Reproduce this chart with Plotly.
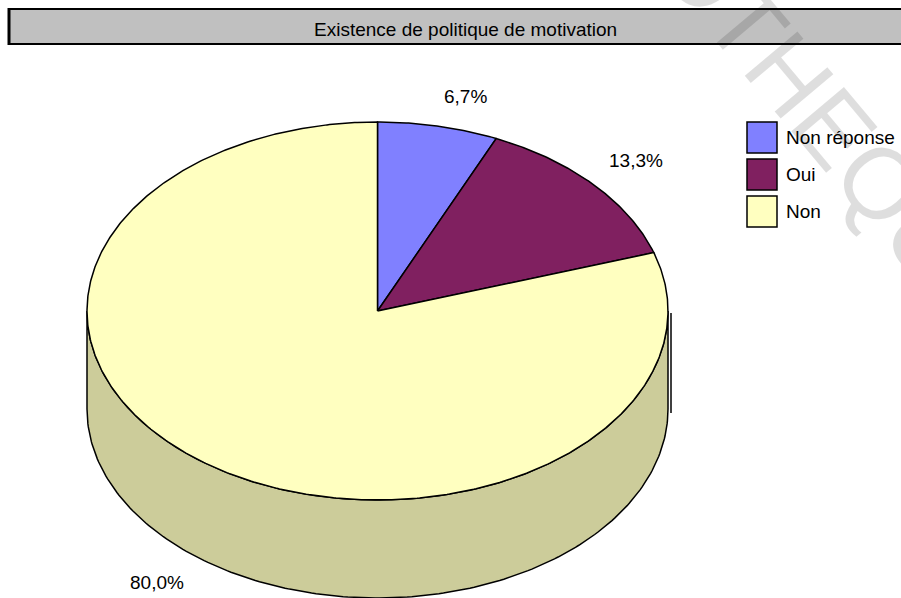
import numpy as np
import plotly.graph_objects as go

# Survey answers: "Is there a motivation policy?"
categories = ["Non réponse", "Oui", "Non"]
shares = [6.7, 13.3, 80.0]
share_labels = ["6,7%", "13,3%", "80,0%"]
colors = ["#8080FF", "#802060", "#FFFFC0"]
title_text = "Existence de politique de motivation"

W, H = 901, 598
FONT = "Liberation Sans, Arial, sans-serif"

# Projected (tilted) pie geometry in pixel space
CX, CY, RX, RY, DEPTH = 377.5, 311.0, 290.5, 189.0, 98.0


def ellipse(theta_deg, drop=0.0):
    t = np.radians(theta_deg)
    return CX + RX * np.sin(t), CY - RY * np.cos(t) + drop


def darker(hex_color, f=0.8):
    h = hex_color.lstrip("#")
    r, g, b = (int(h[i:i + 2], 16) for i in (0, 2, 4))
    return "#%02X%02X%02X" % (round(r * f), round(g * f), round(b * f))


total = sum(shares)
ends = np.cumsum(shares) / total * 360.0
starts = np.concatenate([[0.0], ends[:-1]])

fig = go.Figure()

# Side walls: only the front half (90..270 deg, clockwise from top) is visible
for s, e, c in zip(starts, ends, colors):
    a, b = max(s, 90.0), min(e, 270.0)
    if b <= a:
        continue
    th = np.linspace(a, b, 200)
    xt, yt = ellipse(th)
    xb, yb = ellipse(th[::-1], DEPTH)
    fig.add_trace(go.Scatter(
        x=np.concatenate([xt, xb, xt[:1]]), y=np.concatenate([yt, yb, yt[:1]]),
        mode="lines", fill="toself", fillcolor=darker(c),
        line=dict(color="black", width=1.5), hoverinfo="skip", showlegend=False))

# Top faces of the slices
for s, e, c, name in zip(starts, ends, colors, categories):
    th = np.linspace(s, e, max(int((e - s) * 2), 8))
    xa, ya = ellipse(th)
    fig.add_trace(go.Scatter(
        x=np.concatenate([[CX], xa, [CX]]), y=np.concatenate([[CY], ya, [CY]]),
        mode="lines", fill="toself", fillcolor=c, name=name,
        line=dict(color="black", width=1.5), hoverinfo="skip", showlegend=False))

annotations = []

# Percentage labels placed just outside each slice (below the wall for front slices)
for s, e, lab in zip(starts, ends, share_labels):
    mid = (s + e) / 2.0
    sn, cs = np.sin(np.radians(mid)), np.cos(np.radians(mid))
    front = cs < 0
    px, py = ellipse(mid, DEPTH if front else 0.0)
    ox, oy = (35.0 * sn, -10.0 * cs) if front else (18.0 * sn, -18.0 * cs)
    annotations.append(dict(
        x=px + ox, y=py + oy, text=lab, showarrow=False,
        xanchor="left" if sn > 0 else "right",
        yanchor="top" if front else "bottom",
        font=dict(family=FONT, size=19, color="black")))

shapes = []

# Title banner
shapes.append(dict(type="rect", x0=9, y0=9, x1=930, y1=44, fillcolor="#C0C0C0",
                   line=dict(color="black", width=2), layer="below"))
shapes.append(dict(type="line", x0=9, y0=8, x1=9, y1=45,
                   line=dict(color="black", width=3)))
annotations.append(dict(x=465, y=29, text=title_text, showarrow=False,
                        xanchor="center", yanchor="middle",
                        font=dict(family=FONT, size=19, color="black")))

# Edge stroke on the right side wall
shapes.append(dict(type="line", x0=CX + RX + 3, x1=CX + RX + 3, y0=CY + 2, y1=CY + DEPTH + 4,
                   line=dict(color="black", width=1.5)))

# Legend
LX, LY, SW, SH, STEP = 747, 122, 30, 31, 37
for i, (name, c) in enumerate(zip(categories, colors)):
    y0 = LY + STEP * i
    shapes.append(dict(type="rect", x0=LX, x1=LX + SW, y0=y0, y1=y0 + SH,
                       fillcolor=c, line=dict(color="black", width=1.5)))
    annotations.append(dict(x=LX + SW + 7, y=y0 + SH / 2, text=name, showarrow=False,
                            xanchor="left", yanchor="middle",
                            font=dict(family=FONT, size=19, color="black")))

# Library watermark
annotations.append(dict(x=757, y=36, text="BIBLIOTHEQUE", showarrow=False,
                        textangle=50, xanchor="center", yanchor="middle",
                        font=dict(family=FONT, size=100, color="rgba(0,0,0,0.13)")))

fig.update_layout(
    width=W, height=H, margin=dict(l=0, r=0, t=0, b=0),
    paper_bgcolor="white", plot_bgcolor="white",
    xaxis=dict(range=[0, W], visible=False, fixedrange=True),
    yaxis=dict(range=[H, 0], visible=False, fixedrange=True),
    shapes=shapes, annotations=annotations, showlegend=False)

fig.write_html("out.html")
